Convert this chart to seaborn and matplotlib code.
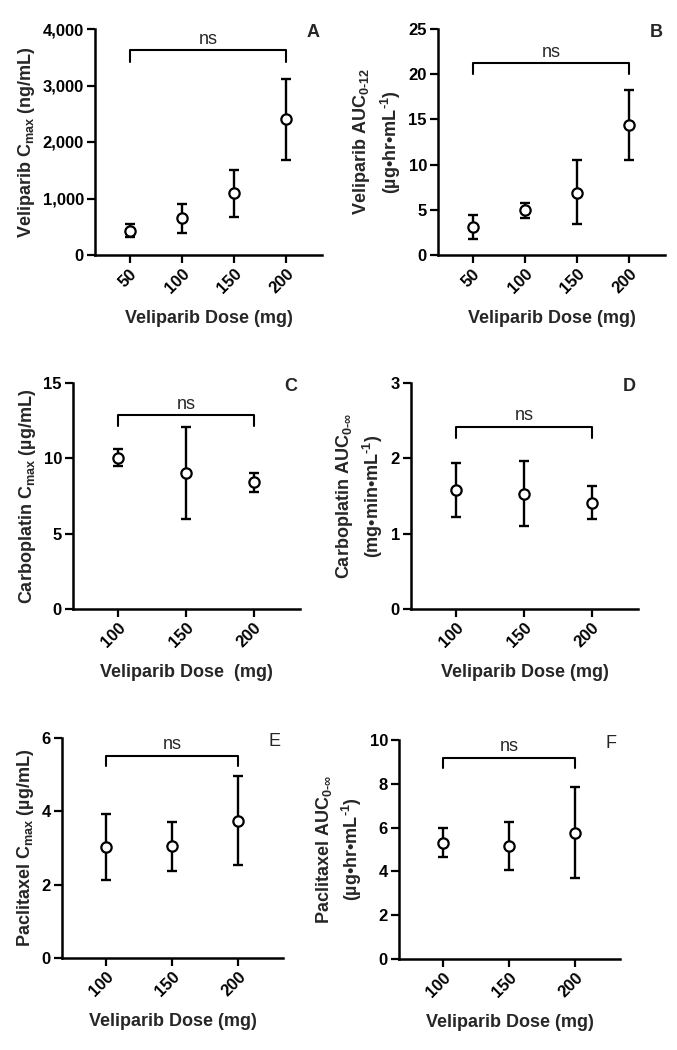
import numpy as np
import pandas as pd
import matplotlib
matplotlib.use('Agg')
import matplotlib.pyplot as plt
import seaborn as sns

sns.set_style('ticks')
plt.rcParams['font.family'] = ['Liberation Sans', 'DejaVu Sans']
plt.rcParams['mathtext.fontset'] = 'custom'
plt.rcParams['mathtext.rm'] = 'Liberation Sans:bold'
plt.rcParams['mathtext.it'] = 'Liberation Sans:bold'
plt.rcParams['mathtext.bf'] = 'Liberation Sans:bold'
plt.rcParams['mathtext.sf'] = 'Liberation Sans:bold'

#data (mean, lower, upper)
dose_vel = [50, 100, 150, 200]
dose_cp = [100, 150, 200]

vel_cmax = [430, 650, 1090, 2400]
vel_cmax_lo = [310, 396, 680, 1684]
vel_cmax_hi = [544, 898, 1500, 3120]

vel_auc = [3.1, 4.95, 6.9, 14.35]
vel_auc_lo = [1.8, 4.05, 3.4, 10.5]
vel_auc_hi = [4.4, 5.8, 10.5, 18.25]

carbo_cmax = [10.05, 9.0, 8.4]
carbo_cmax_lo = [9.5, 5.95, 7.75]
carbo_cmax_hi = [10.6, 12.1, 9.0]

carbo_auc = [1.58, 1.53, 1.41]
carbo_auc_lo = [1.22, 1.10, 1.19]
carbo_auc_hi = [1.94, 1.96, 1.63]

pac_cmax = [3.04, 3.05, 3.75]
pac_cmax_lo = [2.12, 2.38, 2.55]
pac_cmax_hi = [3.94, 3.71, 4.96]

pac_auc = [5.31, 5.15, 5.77]
pac_auc_lo = [4.67, 4.07, 3.68]
pac_auc_hi = [5.97, 6.26, 7.87]

# bracket height, drop of bracket ends, y max, y tick step
brackets = [3620, 21.2, 12.85, 2.42, 5.52, 9.2]
drops = [200, 1.15, 0.7, 0.15, 0.28, 0.48]
ymax = [4000, 25, 15, 3, 6, 10]
ystep = [1000, 5, 5, 1, 2, 2]

ylabels = [
    'Veliparib C$_{\\mathrm{max}}$ (ng/mL)',
    'Veliparib AUC$_{\\text{0-12}}$\n(\u00b5g\u2022hr\u2022mL$^{\\text{-1}}$)',
    'Carboplatin C$_{\\mathrm{max}}$ (\u00b5g/mL)',
    'Carboplatin AUC$_{\\text{0-\u221e}}$\n(mg\u2022min\u2022mL$^{\\text{-1}}$)',
    'Paclitaxel C$_{\\mathrm{max}}$ (\u00b5g/mL)',
    'Paclitaxel AUC$_{\\text{0-\u221e}}$\n(\u00b5g\u2022hr\u2022mL$^{\\text{-1}}$)',
]
xlabels = ['Veliparib Dose (mg)', 'Veliparib Dose (mg)', 'Veliparib Dose  (mg)',
           'Veliparib Dose (mg)', 'Veliparib Dose (mg)', 'Veliparib Dose (mg)']
letters = ['A', 'B', 'C', 'D', 'E', 'F']

panels = [
    (dose_vel, vel_cmax, vel_cmax_lo, vel_cmax_hi),
    (dose_vel, vel_auc, vel_auc_lo, vel_auc_hi),
    (dose_cp, carbo_cmax, carbo_cmax_lo, carbo_cmax_hi),
    (dose_cp, carbo_auc, carbo_auc_lo, carbo_auc_hi),
    (dose_cp, pac_cmax, pac_cmax_lo, pac_cmax_hi),
    (dose_cp, pac_auc, pac_auc_lo, pac_auc_hi),
]

W, H = 677, 1050
# axes boxes in pixels: left, top, right, bottom
boxes = [(95, 29, 322, 255), (438, 29, 665, 255),
         (73, 383, 300, 609), (411, 383, 638, 609),
         (62, 738, 283, 958), (399, 740, 620, 959)]

fig = plt.figure(figsize=(W / 100, H / 100), dpi=100)

for i in range(6):
    l, t, r, b = boxes[i]
    ax = fig.add_axes([l / W, 1 - b / H, (r - l) / W, (b - t) / H])
    x, m, lo, hi = panels[i]
    df = pd.DataFrame({'dose': x, 'mean': m, 'lo': lo, 'hi': hi})
    err = [df['mean'] - df['lo'], df['hi'] - df['mean']]
    ax.errorbar(df['dose'], df['mean'], yerr=err, fmt='none', ecolor='black',
                elinewidth=1.7, capsize=3.5, capthick=1.7, zorder=2)
    sns.scatterplot(data=df, x='dose', y='mean', ax=ax, marker='o', s=55,
                    facecolor='white', edgecolor='black', linewidth=1.6, zorder=3)

    if len(x) == 4:
        ax.set_xlim(17, 234)
    else:
        ax.set_xlim(67, 234)
    ax.set_xticks(x)
    ax.set_xticklabels([str(v) for v in x], rotation=45, ha='right',
                       rotation_mode='anchor', fontweight='bold', fontsize=12)
    ax.set_ylim(0, ymax[i])
    yt = np.arange(0, ymax[i] + ystep[i] / 2, ystep[i])
    ax.set_yticks(yt)
    if ymax[i] >= 1000:
        ax.set_yticklabels(['{:,}'.format(int(v)) for v in yt], fontweight='bold', fontsize=12)
    else:
        ax.set_yticklabels([str(int(v)) for v in yt], fontweight='bold', fontsize=12)

    ax.tick_params(direction='out', length=6, width=1.6, colors='black', pad=2)
    for s in ['left', 'bottom']:
        ax.spines[s].set_linewidth(1.8)
        ax.spines[s].set_color('black')
    sns.despine(ax=ax)

    ax.set_xlabel(xlabels[i], fontsize=13, fontweight='bold', labelpad=10)
    ax.set_ylabel(ylabels[i], fontsize=13, fontweight='bold', labelpad=4, linespacing=1.35)

    # ns bracket
    x0, x1 = x[0], x[-1]
    yb = brackets[i]
    ax.plot([x0, x0, x1, x1], [yb - drops[i], yb, yb, yb - drops[i]],
            color='black', lw=1.5, clip_on=False)
    ax.text((x0 + x1) / 2, yb + ymax[i] * 0.01, 'ns', ha='center', va='bottom', fontsize=13)

    ax.text(0.96, 0.985, letters[i], transform=ax.transAxes, ha='center', va='center',
            fontsize=13, fontweight='bold' if i < 4 else 'normal')

plt.savefig('out.png', dpi=100)
